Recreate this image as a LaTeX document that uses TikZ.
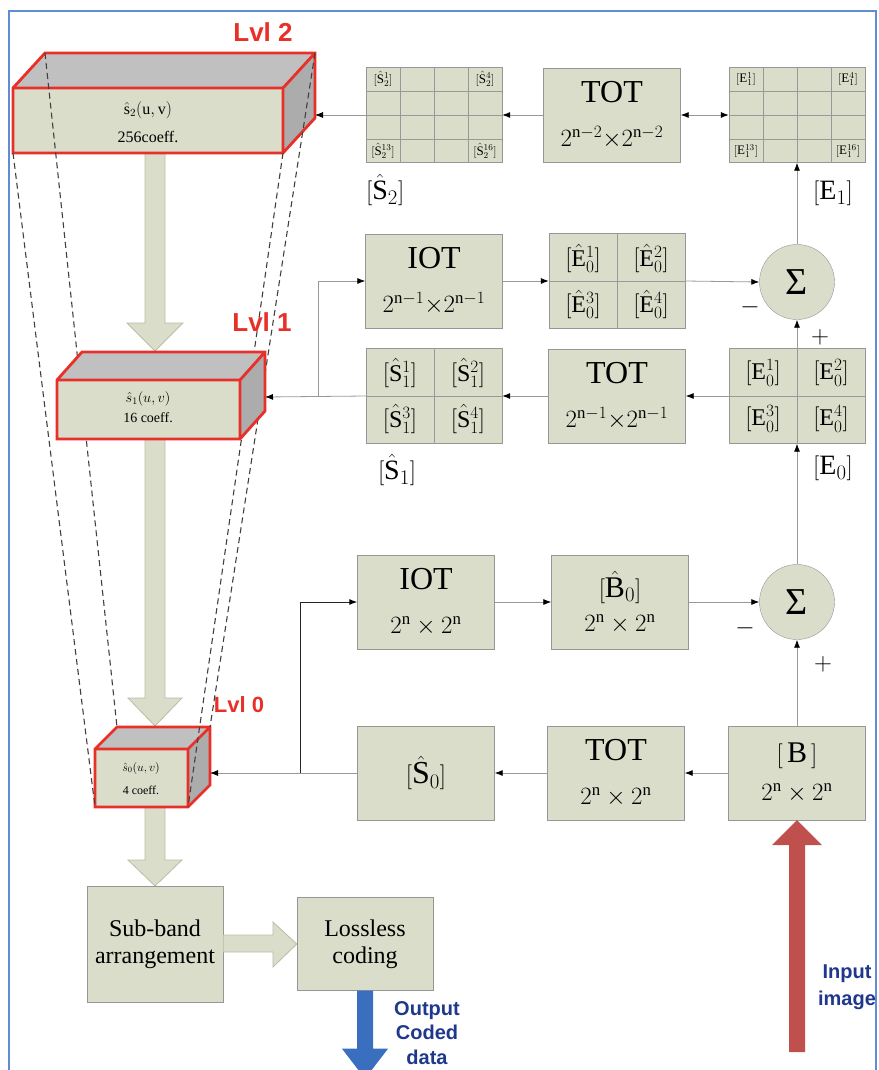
\documentclass[tikz,border=0pt]{standalone}
\usepackage{amsmath}
\usepackage{fontspec}
\setmainfont{Liberation Serif}
\setsansfont{Liberation Sans}
\usetikzlibrary{arrows.meta}
\definecolor{boxfill}{RGB}{218,221,201}
\definecolor{boxline}{RGB}{150,150,150}
\definecolor{hollowline}{RGB}{185,190,165}
\definecolor{lvlred}{RGB}{232,48,40}
\definecolor{facetop}{RGB}{192,192,192}
\definecolor{faceside}{RGB}{172,172,172}
\definecolor{frameblue}{RGB}{95,140,210}
\definecolor{navy}{RGB}{31,56,140}
\definecolor{inred}{RGB}{192,80,77}
\definecolor{outblue}{RGB}{58,110,190}
\newcommand{\Shat}{\hat{\mathrm{S}}}
\newcommand{\Ehat}{\hat{\mathrm{E}}}
\newcommand{\Bhat}{\hat{\mathrm{B}}}
\newcommand{\rmn}{\mathrm{n}}
% cube: front x1,y1,x2,y2 and depth dx,dy
\newcommand{\cubeblk}[6]{%
  \fill[facetop] (#1,#2) -- (#1+#5,#2-#6) -- (#3+#5,#2-#6) -- (#3,#2) -- cycle;
  \fill[faceside] (#3,#2) -- (#3+#5,#2-#6) -- (#3+#5,#4-#6) -- (#3,#4) -- cycle;
  \fill[boxfill] (#1,#2) rectangle (#3,#4);
  \draw[redface] (#1,#2) -- (#1+#5,#2-#6) -- (#3+#5,#2-#6) -- (#3+#5,#4-#6) -- (#3,#4) -- (#1,#4) -- cycle
    (#1,#2) -- (#3,#2) -- (#3+#5,#2-#6) (#3,#2) -- (#3,#4);}
\tikzset{
  blk/.style={draw=boxline, fill=boxfill, minimum width=137pt, minimum height=94pt,
    inner sep=0pt, align=center, font=\fontsize{24}{28}\selectfont},
  gridbox/.style={draw=boxline, fill=boxfill, minimum width=136pt, minimum height=95pt, inner sep=0pt},
  gridln/.style={draw=black!40, line width=0.6pt},
  cell/.style={inner sep=0pt, font=\fontsize{24}{24}\selectfont},
  tinycell/.style={inner sep=0pt, font=\fontsize{13}{13}\selectfont},
  sumnode/.style={circle, draw=boxline, fill=boxfill, minimum size=75pt, inner sep=0pt,
    font=\fontsize{38}{38}\selectfont},
  flow/.style={draw=black!40, line width=0.8pt, -{Latex[length=8pt,width=6pt,color=black]}},
  lvl/.style={text=lvlred, font=\sffamily\bfseries\fontsize{26}{26}\selectfont, inner sep=0pt},
  sign/.style={font=\fontsize{26}{26}\selectfont, inner sep=0pt},
  vecname/.style={font=\fontsize{28}{28}\selectfont, inner sep=0pt},
  cubetxt/.style={inner sep=0pt},
  hollow/.style={fill=boxfill, draw=hollowline, line width=0.8pt},
  redface/.style={draw=lvlred, line width=2.8pt, line join=miter},
  dashln/.style={dash pattern=on 6pt off 4pt, draw=black!75, line width=1.1pt},
  note/.style={text=navy, font=\sffamily\bfseries\fontsize{20}{24.5}\selectfont, align=center, inner sep=0pt},
}
\begin{document}
\begin{tikzpicture}[x=1pt,y=-1pt]
\useasboundingbox (0,0) rectangle (878,1070);
\clip (0,0) rectangle (878,1070);
% hollow arrows down the pyramid
\draw[hollow] (145,150) -- (145,323) -- (127,323) -- (155,351) -- (183,323) -- (165,323) -- (165,150) -- cycle;
\draw[hollow] (145,436) -- (145,698) -- (128,698) -- (155,726) -- (182,698) -- (165,698) -- (165,436) -- cycle;
\draw[hollow] (145,805) -- (145,860) -- (128,860) -- (155,886) -- (182,860) -- (165,860) -- (165,805) -- cycle;
% levels 0 and 2
\cubeblk{95}{749}{188}{807}{22}{22}
\cubeblk{13}{88}{283}{153}{32}{35}
\draw[dashln] (13,153) -- (95,807);
\draw[dashln] (45,53) -- (117,727);
\draw[dashln] (283,153) -- (188,807);
\draw[dashln] (315,53) -- (210,727);
% level 1
\cubeblk{57}{380}{240}{439}{25}{28}
\node[cubetxt, font=\fontsize{16}{16}\selectfont] (ltwoa) at (148,110) {$\hat{\mathrm{s}}_2(\mathrm{u},\mathrm{v})$};
\node[cubetxt, font=\fontsize{16}{16}\selectfont] (ltwob) at (148,137) {256coeff.};
\node[cubetxt, font=\fontsize{14}{14}\selectfont] (lonea) at (148,399) {$\hat{s}_1(u,v)$};
\node[cubetxt, font=\fontsize{14}{14}\selectfont] (loneb) at (148,418) {16 coeff.};
\node[cubetxt, font=\fontsize{12}{12}\selectfont] (lzeroa) at (141,768) {$\hat{s}_0(u,v)$};
\node[cubetxt, font=\fontsize{12}{12}\selectfont] (lzerob) at (141,790) {4 coeff.};
\coordinate (lvtwoin) at (315,115);
\coordinate (lvonein) at (265,397);
\coordinate (lvzeroin) at (210,773);
\node[lvl] (lvtwo) at (263,32) {Lvl 2};
\node[lvl] (lvone) at (262,322) {Lvl 1};
\node[lvl, font=\sffamily\bfseries\fontsize{22}{22}\selectfont] (lvzero) at (239,705) {Lvl 0};

% top row
\node[gridbox] (s2g) at (434,115) {};
\node[blk] (tot2) at (612,115) {{\fontsize{32}{32}\selectfont TOT}\\[16pt]$2^{\rmn-2}{\times}2^{\rmn-2}$};
\node[gridbox] (e1g) at (797,115) {};
\foreach \d in {-34,0,34} {
  \draw[gridln] ([xshift=\d pt]s2g.north) -- ([xshift=\d pt]s2g.south);
  \draw[gridln] ([xshift=\d pt]e1g.north) -- ([xshift=\d pt]e1g.south);
}
\foreach \d in {-24,0,24} {
  \draw[gridln] ([yshift=\d pt]s2g.west) -- ([yshift=\d pt]s2g.east);
  \draw[gridln] ([yshift=\d pt]e1g.west) -- ([yshift=\d pt]e1g.east);
}
\node[tinycell] (s2a) at ([shift={(-51pt,36pt)}]s2g.center) {$[\Shat^{1}_{2}]$};
\node[tinycell] (s2b) at ([shift={(51pt,36pt)}]s2g.center) {$[\Shat^{4}_{2}]$};
\node[tinycell] (s2c) at ([shift={(-51pt,-36pt)}]s2g.center) {$[\Shat^{13}_{2}]$};
\node[tinycell] (s2d) at ([shift={(51pt,-36pt)}]s2g.center) {$[\Shat^{16}_{2}]$};
\node[tinycell] (e1a) at ([shift={(-51pt,36pt)}]e1g.center) {$[\mathrm{E}^{1}_{1}]$};
\node[tinycell] (e1b) at ([shift={(51pt,36pt)}]e1g.center) {$[\mathrm{E}^{4}_{1}]$};
\node[tinycell] (e1c) at ([shift={(-51pt,-36pt)}]e1g.center) {$[\mathrm{E}^{13}_{1}]$};
\node[tinycell] (e1d) at ([shift={(51pt,-36pt)}]e1g.center) {$[\mathrm{E}^{16}_{1}]$};
\node[vecname, anchor=west] (s2name) at (366,190) {$[\Shat_2]$};
\node[vecname] (e1name) at (833,193) {$[\mathrm{E}_1]$};

% level 1 loop
\node[blk] (iot1) at (434,281) {{\fontsize{32}{32}\selectfont IOT}\\[16pt]$2^{\rmn-1}{\times}2^{\rmn-1}$};
\node[gridbox] (eh0) at (617,281) {};
\node[sumnode] (sum1) at (797,282) {Σ};
\node[gridbox] (s1g) at (434,396) {};
\node[blk] (tot1) at (617,396) {{\fontsize{32}{32}\selectfont TOT}\\[16pt]$2^{\rmn-1}{\times}2^{\rmn-1}$};
\node[gridbox] (e0g) at (797,396) {};
\draw[gridln] (eh0.north) -- (eh0.south) (eh0.west) -- (eh0.east);
\draw[gridln] (s1g.north) -- (s1g.south) (s1g.west) -- (s1g.east);
\draw[gridln] (e0g.north) -- (e0g.south) (e0g.west) -- (e0g.east);
\node[cell] (eha) at ([shift={(-34pt,23pt)}]eh0.center) {$[\Ehat^{1}_{0}]$};
\node[cell] (ehb) at ([shift={(34pt,23pt)}]eh0.center) {$[\Ehat^{2}_{0}]$};
\node[cell] (ehc) at ([shift={(-34pt,-23pt)}]eh0.center) {$[\Ehat^{3}_{0}]$};
\node[cell] (ehd) at ([shift={(34pt,-23pt)}]eh0.center) {$[\Ehat^{4}_{0}]$};
\node[cell] (s1a) at ([shift={(-34pt,23pt)}]s1g.center) {$[\Shat^{1}_{1}]$};
\node[cell] (s1b) at ([shift={(34pt,23pt)}]s1g.center) {$[\Shat^{2}_{1}]$};
\node[cell] (s1c) at ([shift={(-34pt,-23pt)}]s1g.center) {$[\Shat^{3}_{1}]$};
\node[cell] (s1d) at ([shift={(34pt,-23pt)}]s1g.center) {$[\Shat^{4}_{1}]$};
\node[cell] (e0a) at ([shift={(-34pt,23pt)}]e0g.center) {$[\mathrm{E}^{1}_{0}]$};
\node[cell] (e0b) at ([shift={(34pt,23pt)}]e0g.center) {$[\mathrm{E}^{2}_{0}]$};
\node[cell] (e0c) at ([shift={(-34pt,-23pt)}]e0g.center) {$[\mathrm{E}^{3}_{0}]$};
\node[cell] (e0d) at ([shift={(34pt,-23pt)}]e0g.center) {$[\mathrm{E}^{4}_{0}]$};
\node[vecname] (s1name) at (397,470) {$[\Shat_1]$};
\node[vecname] (e0name) at (833,468) {$[\mathrm{E}_0]$};
\node[sign] (mone) at (750,307) {$-$};
\node[sign] (pone) at (820,337) {$+$};

% level 0 loop
\node[blk] (iot0) at (426,602) {{\fontsize{32}{32}\selectfont IOT}\\[16pt]$2^{\rmn}\times2^{\rmn}$};
\node[blk] (bh0) at (620,602) {{\fontsize{30}{30}\selectfont $[\Bhat_0]$}\\[6pt]$2^{\rmn}\times2^{\rmn}$};
\node[sumnode] (sum0) at (797,602) {Σ};
\node[blk] (s0) at (426,773) {\fontsize{32}{32}\selectfont $[\Shat_0]$};
\node[blk] (tot0) at (616,773) {{\fontsize{32}{32}\selectfont TOT}\\[16pt]$2^{\rmn}\times2^{\rmn}$};
\node[blk] (bblk) at (797,773) {{\fontsize{30}{30}\selectfont $[\,\mathrm{B}\,]$}\\[10pt]$2^{\rmn}\times2^{\rmn}$};
\node[sign] (mzero) at (745,628) {$-$};
\node[sign] (pzero) at (823,664) {$+$};

% coding stage
\node[blk, minimum width=136pt, minimum height=116pt, font=\fontsize{24}{27}\selectfont] (sub) at (155,944) {Sub-band\\arrangement};
\node[blk, minimum width=136pt, minimum height=93pt, font=\fontsize{24}{27}\selectfont] (loss) at (365,944) {Lossless\\coding};
\draw[hollow] ([yshift=9pt]sub.east) -- (273,935) -- (273,922) -- (loss.west) -- (273,967) -- (273,952) -- ([yshift=-8pt]sub.east) -- cycle;

% connectors
\draw[flow] (tot2.west) -- (s2g.east);
\draw[{Latex[length=8pt,width=6pt,color=black]}-{Latex[length=8pt,width=6pt,color=black]}, draw=black!40, line width=0.8pt] (tot2.east) -- (e1g.west);
\draw[flow] (s2g.west) -- (lvtwoin);
\draw[flow] (sum1.north) -- (e1g.south);
\draw[flow] (iot1.east) -- (eh0.west);
\draw[flow] (eh0.east) -- (sum1.west);
\draw[flow] (e0g.north) -- (sum1.south);
\draw[flow] (e0g.west) -- (tot1.east);
\draw[flow] (tot1.west) -- (s1g.east);
\draw[flow] (s1g.west) -- (lvonein);
\coordinate (fbone) at (318,396);
\draw[flow] (fbone) |- (iot1.west);
\draw[flow] (sum0.north) -- (e0g.south);
\draw[flow] (iot0.east) -- (bh0.west);
\draw[flow] (bh0.east) -- (sum0.west);
\draw[flow] (bblk.north) -- (sum0.south);
\draw[flow] (bblk.west) -- (tot0.east);
\draw[flow] (tot0.west) -- (s0.east);
\draw[flow] (s0.west) -- (lvzeroin);
\coordinate (fbzero) at (300,773);
\draw[flow, draw=black!85, line width=1pt] (fbzero) |- (iot0.west);

% input and output
\fill[inred] (bblk.south) -- ++(25,25) -- ++(-17,0) -- ++(0,207) -- ++(-16,0) -- ++(0,-207) -- ++(-17,0) -- cycle;
\fill[outblue] ([xshift=-8pt]loss.south) -- ++(0,58) -- ++(-15,0) -- ++(23,30) -- ++(23,-30) -- ++(-15,0) -- ++(0,-58) -- cycle;
\node[note] (outtxt) at (427,1033) {Output\\Coded\\data};
\node[note, font=\sffamily\bfseries\fontsize{20}{27}\selectfont] (intxt) at (847,987) {Input\\image};
\draw[frameblue, line width=1.8pt] (9,1075) -- (9,11) -- (876,11) -- (876,1075);
\end{tikzpicture}
\end{document}
